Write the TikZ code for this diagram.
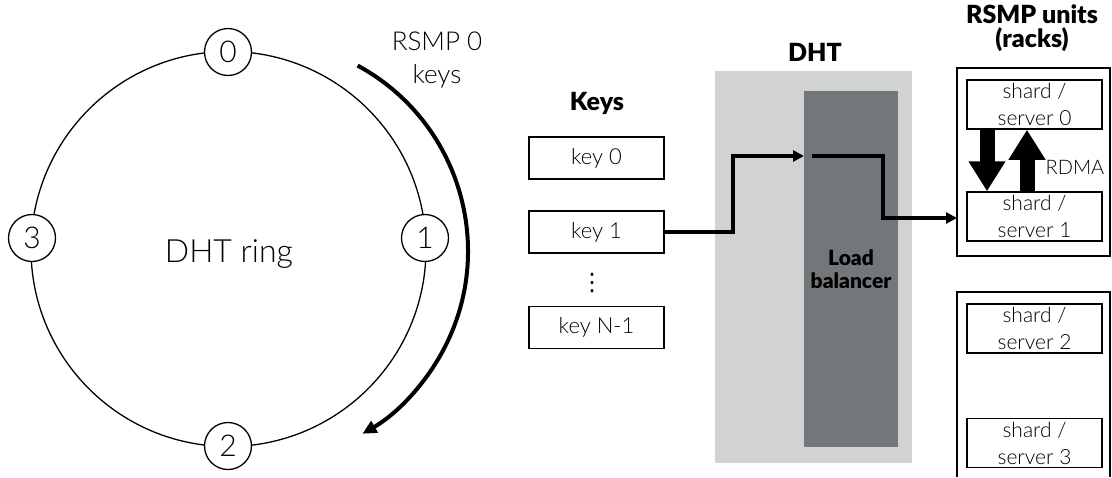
\documentclass[tikz,border=0pt]{standalone}
\usepackage{fontspec}
\setmainfont{Lato Light}[BoldFont={Lato Black}]
\newfontfamily\symfont{DejaVu Sans}
\usetikzlibrary{arrows.meta,calc}
\definecolor{dhtgrey}{RGB}{209,211,211}
\definecolor{lbgrey}{RGB}{116,119,122}
\begin{document}
\begin{tikzpicture}[x=1pt,y=1pt,
  ringnode/.style={draw, circle, fill=white, line width=1.3pt, minimum size=47pt, inner sep=0pt, font=\fontsize{30}{32}\selectfont},
  keybox/.style={draw, line width=1.5pt, minimum width=135pt, minimum height=42pt, inner sep=0pt, font=\fontsize{22}{26}\selectfont},
  shardbox/.style={draw, line width=1.5pt, minimum width=135pt, minimum height=49pt, inner sep=0pt, align=center, font=\fontsize{21}{27}\selectfont},
  rackbox/.style={draw, line width=1.5pt},
  heading/.style={font=\bfseries\fontsize{25}{24}\selectfont, align=center, inner sep=0pt},
  link/.style={line width=3.5pt, line join=miter, -{Triangle[length=11pt,width=11pt]}},
  rdma/.style={line width=15pt, -{Triangle[length=30pt,width=35pt]}},
]
\useasboundingbox (0,0) rectangle (1112,-477);

% DHT ring and its members
\node[draw, circle, line width=1.3pt, minimum size=395pt, inner sep=0pt] (ring) at (228.5,-249) {};
\node[font=\fontsize{32}{36}\selectfont, inner sep=0pt] (ringlabel) at (229,-254) {DHT ring};
\node[ringnode] (n0) at (228,-52) {0};
\node[ringnode] (n1) at (425,-238) {1};
\node[ringnode] (n2) at (228,-446) {2};
\node[ringnode] (n3) at (32,-238) {3};

% keys owned by RSMP 0
\node[font=\fontsize{26}{33}\selectfont, align=center, inner sep=0pt] (rsmpkeys) at (437,-60) {RSMP 0\\keys};
\coordinate (arcc) at (257,-251);
\draw[line width=4pt, -{Triangle[length=14pt,width=13pt]}] ($(arcc)+(61.5:211)$) arc[start angle=61.5, end angle=-60, radius=211];

% key list
\node[heading] (keyshead) at (597,-103.5) {Keys};
\node[keybox] (key0) at (596.5,-158) {key 0};
\node[keybox] (key1) at (596.5,-232) {key 1};
\node[inner sep=0pt, font=\symfont\fontsize{24}{24}\selectfont] (dots) at (592,-283) {⋮};
\node[keybox] (keyn) at (596.5,-327.5) {key N-1};

% DHT with load balancer
\node[heading] (dhthead) at (815,-52) {DHT};
\node[fill=dhtgrey, minimum width=197pt, minimum height=392pt, inner sep=0pt] (dht) at (813.5,-267) {};
\node[fill=lbgrey, minimum width=94pt, minimum height=356pt, inner sep=0pt, align=center,
      font=\bfseries\fontsize{21}{23}\selectfont] (lb) at (851,-269) {Load\\balancer};

% RSMP units
\node[heading] (rackhead) at (1032,-28) {RSMP units\\(racks)};
\node[rackbox, minimum width=153pt, minimum height=188pt, inner sep=0pt] (rack1) at (1033.5,-162) {};
\coordinate (rack2bl) at (957,-477);
\coordinate (rack2br) at (1110,-477);
\draw[line width=1.5pt] (rack2bl) |- (1110,-292) -- (rack2br);
\node[shardbox] (s0) at (1034.5,-104.5) {shard /\\server 0};
\node[shardbox] (s1) at (1034.5,-216.5) {shard /\\server 1};
\node[shardbox] (s2) at (1034.5,-328.5) {shard /\\server 2};
\node[shardbox] (s3) at (1034.5,-443) {shard /\\server 3};
\draw[rdma] ($(s0.south)+(-47.5,0)$) -- ($(s1.north)+(-47.5,0)$);
\draw[rdma] ($(s1.north)+(-7.5,0)$) -- ($(s0.south)+(-7.5,0)$);
\node[font=\fontsize{20}{24}\selectfont, inner sep=0pt] (rdmalabel) at (1075,-167) {RDMA};

% request path
\coordinate (lbin) at (804,-156);
\coordinate (lbout) at (812,-156);
\coordinate (rackin) at (957,-218);
\draw[link] (key1.east) -- (733,-232) |- (lbin);
\draw[link] (lbout) -- (883,-156) |- (rackin);
\end{tikzpicture}
\end{document}
